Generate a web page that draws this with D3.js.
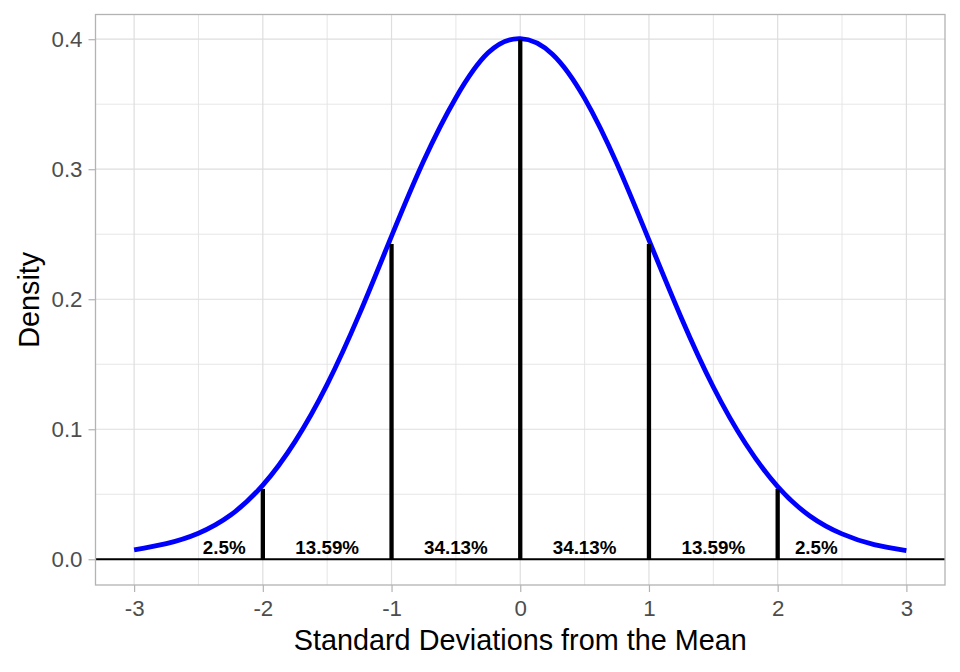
<!DOCTYPE html>
<html>
<head>
<meta charset="utf-8">
<script src="https://cdn.jsdelivr.net/npm/d3@7"></script>
<style>
  body { margin: 0; background: #fff; }
  svg { font-family: "Liberation Sans", Arial, sans-serif; }
</style>
</head>
<body>
<div class="chart"></div>
<script>
// density curve
const curveX = [-3, -2.75, -2.5, -2.25, -2, -1.75, -1.5, -1.25, -1, -0.75, -0.5, -0.25, 0,
                0.25, 0.5, 0.75, 1, 1.25, 1.5, 1.75, 2, 2.25, 2.5, 2.75, 3];
const curveY = [0.0072, 0.0120, 0.0200, 0.0340, 0.0570, 0.0905, 0.1345, 0.1885, 0.2485, 0.3065, 0.3550, 0.3895, 0.4005,
                0.3885, 0.3545, 0.3045, 0.2455, 0.1860, 0.1325, 0.0890, 0.0559, 0.0333, 0.0195, 0.0112, 0.0066];

// vertical cut lines
const cutX = [-2, -1, 0, 1, 2];
const cutY = [0.0541, 0.2425, 0.4, 0.2425, 0.0541];

// percentage labels
const labelX = [-2.3, -1.5, -0.5, 0.5, 1.5, 2.3];
const labelText = ["2.5%", "13.59%", "34.13%", "34.13%", "13.59%", "2.5%"];
const labelY = 0.0092;

const xTicks = [-3, -2, -1, 0, 1, 2, 3];
const xMinor = [-2.5, -1.5, -0.5, 0.5, 1.5, 2.5];
const yTicks = [0, 0.1, 0.2, 0.3, 0.4];
const yMinor = [0.05, 0.15, 0.25, 0.35];

const W = 960, H = 672;
const margin = {top: 14.5, right: 15, bottom: 87, left: 95.5};
const width = W - margin.left - margin.right;
const height = H - margin.top - margin.bottom;

const svg = d3.select(".chart")
    .append("svg")
    .attr("width", W)
    .attr("height", H);

const g = svg.append("g")
    .attr("transform", `translate(${margin.left},${margin.top})`);

const x = d3.scaleLinear().domain([-3.3, 3.3]).range([0, width]);
const y = d3.scaleLinear().domain([-0.0198, 0.419]).range([height, 0]);

// grid
g.selectAll(".xminor").data(xMinor).enter().append("line")
    .attr("x1", d => x(d)).attr("x2", d => x(d))
    .attr("y1", 0).attr("y2", height)
    .attr("stroke", "#e3e3e3").attr("stroke-width", 0.9);
g.selectAll(".yminor").data(yMinor).enter().append("line")
    .attr("y1", d => y(d)).attr("y2", d => y(d))
    .attr("x1", 0).attr("x2", width)
    .attr("stroke", "#e3e3e3").attr("stroke-width", 0.9);
g.selectAll(".xmajor").data(xTicks).enter().append("line")
    .attr("x1", d => x(d)).attr("x2", d => x(d))
    .attr("y1", 0).attr("y2", height)
    .attr("stroke", "#dedede").attr("stroke-width", 1.2);
g.selectAll(".ymajor").data(yTicks).enter().append("line")
    .attr("y1", d => y(d)).attr("y2", d => y(d))
    .attr("x1", 0).attr("x2", width)
    .attr("stroke", "#dedede").attr("stroke-width", 1.2);

// baseline at zero
g.append("line")
    .attr("x1", 0).attr("x2", width)
    .attr("y1", y(0)).attr("y2", y(0))
    .attr("stroke", "black").attr("stroke-width", 2);

// curve
const pts = curveX.map((d, i) => [d, curveY[i]]);
g.append("path")
    .datum(pts)
    .attr("d", d3.line().x(d => x(d[0])).y(d => y(d[1])).curve(d3.curveNatural))
    .attr("fill", "none")
    .attr("stroke", "#0000ff")
    .attr("stroke-width", 4.8);

// cut segments
g.selectAll(".cut").data(cutX).enter().append("line")
    .attr("x1", d => x(d)).attr("x2", d => x(d))
    .attr("y1", y(0)).attr("y2", (d, i) => y(cutY[i]))
    .attr("stroke", "black").attr("stroke-width", 4.3);

// labels
g.selectAll(".lab").data(labelX).enter().append("text")
    .attr("x", d => x(d))
    .attr("y", y(labelY))
    .attr("dy", "0.36em")
    .attr("text-anchor", "middle")
    .attr("font-size", "18.8px")
    .attr("font-weight", "bold")
    .attr("fill", "black")
    .text((d, i) => labelText[i]);

// panel border
g.append("rect")
    .attr("x", 0).attr("y", 0)
    .attr("width", width).attr("height", height)
    .attr("fill", "none")
    .attr("stroke", "#b3b3b3")
    .attr("stroke-width", 1.3);

// axes
const xAxis = d3.axisBottom(x).tickValues(xTicks).tickSize(7).tickPadding(8)
    .tickFormat(d3.format("d"));
const yAxis = d3.axisLeft(y).tickValues(yTicks).tickSize(7).tickPadding(6)
    .tickFormat(d3.format(".1f"));

const gx = g.append("g")
    .attr("transform", `translate(0,${height})`)
    .call(xAxis);
const gy = g.append("g").call(yAxis);

[gx, gy].forEach(a => {
    a.select(".domain").remove();
    a.selectAll(".tick line").attr("stroke", "#b3b3b3").attr("stroke-width", 1.2);
    a.selectAll(".tick text")
        .attr("fill", "#4d4d4d")
        .attr("font-size", "22.3px")
        .attr("font-family", "Liberation Sans, Arial, sans-serif");
});
gx.selectAll(".tick text").text(d => d < 0 ? "-" + Math.abs(d) : d);

// axis titles
svg.append("text")
    .attr("x", margin.left + width / 2)
    .attr("y", 650)
    .attr("text-anchor", "middle")
    .attr("font-size", "28.8px")
    .attr("fill", "black")
    .text("Standard Deviations from the Mean");

svg.append("text")
    .attr("transform", `translate(39,${margin.top + height / 2}) rotate(-90)`)
    .attr("text-anchor", "middle")
    .attr("font-size", "28.8px")
    .attr("fill", "black")
    .text("Density");
</script>
</body>
</html>
